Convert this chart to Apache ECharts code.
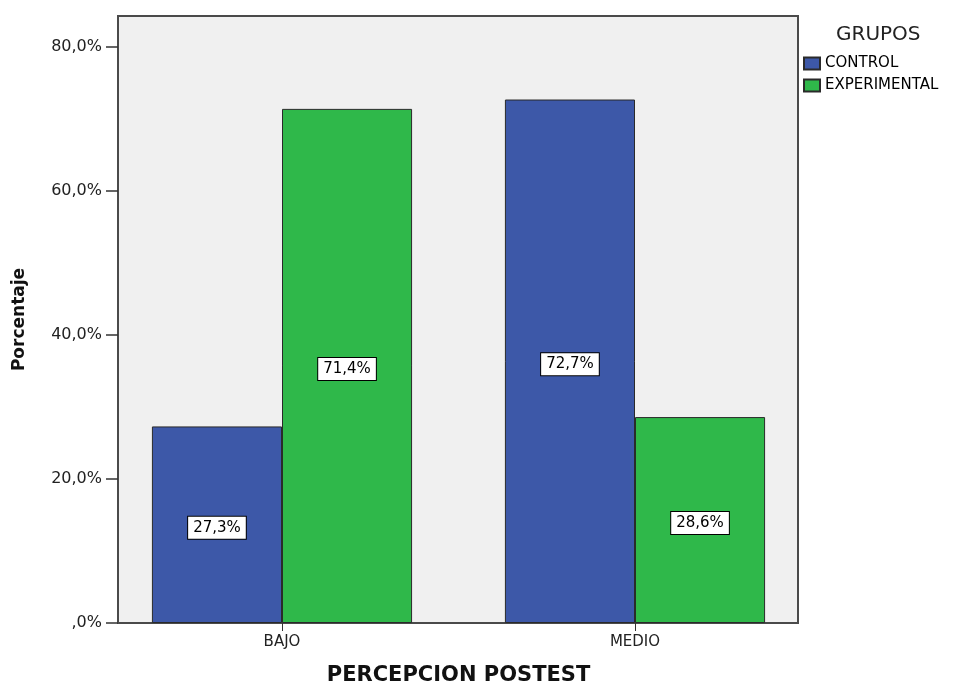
<!DOCTYPE html>
<html>
<head>
<meta charset="utf-8">
<script src="https://cdn.jsdelivr.net/npm/echarts@6/dist/echarts.min.js"></script>
<style>
html,body{margin:0;padding:0;background:#fff;}
#chart{width:955px;height:684px;}
</style>
</head>
<body>
<div id="chart"></div>
<script>
const categories = ['BAJO', 'MEDIO'];
const seriesNames = ['CONTROL', 'EXPERIMENTAL'];
const controlValues = [27.3, 72.7];
const experimentalValues = [71.4, 28.6];
const yTicks = [0, 20, 40, 60, 80];
const yMax = 84.3;
const legendTitle = 'GRUPOS';
const xAxisTitle = 'PERCEPCION POSTEST';
const yAxisTitle = 'Porcentaje';

const FONT = 'DejaVu Sans';
function pct(v) {
  if (v === 0) return ',0%';
  return v.toFixed(1).replace('.', ',') + '%';
}

const chart = echarts.init(document.getElementById('chart'), null, {renderer: 'canvas'});

const labelStyle = {
  show: true,
  position: 'inside',
  offset: [0, 3],
  formatter: p => pct(p.value),
  color: '#000',
  fontFamily: FONT,
  fontSize: 15,
  backgroundColor: '#fff',
  borderColor: '#000',
  borderWidth: 1,
  padding: [4, 5, 3, 5]
};

chart.setOption({
  backgroundColor: '#fff',
  animation: false,
  title: {
    text: legendTitle,
    left: 836,
    top: 25,
    padding: 0,
    textStyle: {fontFamily: FONT, fontSize: 20, fontWeight: 'normal', color: '#222'}
  },
  legend: {
    data: seriesNames,
    orient: 'vertical',
    left: 803,
    top: 56,
    padding: 0,
    itemWidth: 16,
    itemHeight: 12,
    itemGap: 7,
    icon: 'rect',
    textStyle: {fontFamily: FONT, fontSize: 15, color: '#000', lineHeight: 12}
  },
  grid: [
    {left: 118, top: 16, right: 157, bottom: 61, show: true, outerBoundsMode: 'none', containLabel: false,
     backgroundColor: '#f0f0f0', borderColor: '#4a4a4a', borderWidth: 2},
    {left: 105.5, top: 16, right: 143.5, bottom: 61, show: false, outerBoundsMode: 'none', containLabel: false}
  ],
  xAxis: [
    {gridIndex: 0, type: 'category', data: categories, show: false},
    {gridIndex: 1, type: 'category', data: categories,
     axisLine: {show: false},
     axisTick: {show: true, alignWithLabel: true, length: 8, lineStyle: {color: '#333'}},
     axisLabel: {fontFamily: FONT, fontSize: 15, color: '#222', margin: 12},
     name: xAxisTitle, nameLocation: 'middle', nameGap: 42,
     nameTextStyle: {fontFamily: FONT, fontSize: 21, fontWeight: 'bold', color: '#111'}
    }
  ],
  yAxis: [
    {gridIndex: 0, type: 'value', min: 0, max: yMax, interval: 20,
     axisLine: {show: false},
     splitLine: {show: false},
     axisTick: {show: true, length: 12, customValues: yTicks, lineStyle: {color: '#333', width: 1.5}},
     axisLabel: {fontFamily: FONT, fontSize: 16, color: '#222', margin: 16,
                 customValues: yTicks, formatter: v => pct(v)},
     name: yAxisTitle, nameLocation: 'middle', nameGap: 90,
     nameTextStyle: {fontFamily: FONT, fontSize: 17, fontWeight: 'bold', color: '#111'}
    },
    {gridIndex: 1, type: 'value', min: 0, max: yMax, show: false}
  ],
  series: [
    {name: seriesNames[0], type: 'bar', xAxisIndex: 1, yAxisIndex: 1,
     data: controlValues, barGap: '0%', barCategoryGap: '26.3%',
     itemStyle: {color: '#3d58a8', borderColor: '#2a2a2a', borderWidth: 1},
     label: labelStyle},
    {name: seriesNames[1], type: 'bar', xAxisIndex: 1, yAxisIndex: 1,
     data: experimentalValues, barGap: '0%', barCategoryGap: '26.3%',
     itemStyle: {color: '#2fb84a', borderColor: '#2a2a2a', borderWidth: 1},
     label: labelStyle}
  ]
});
</script>
</body>
</html>
